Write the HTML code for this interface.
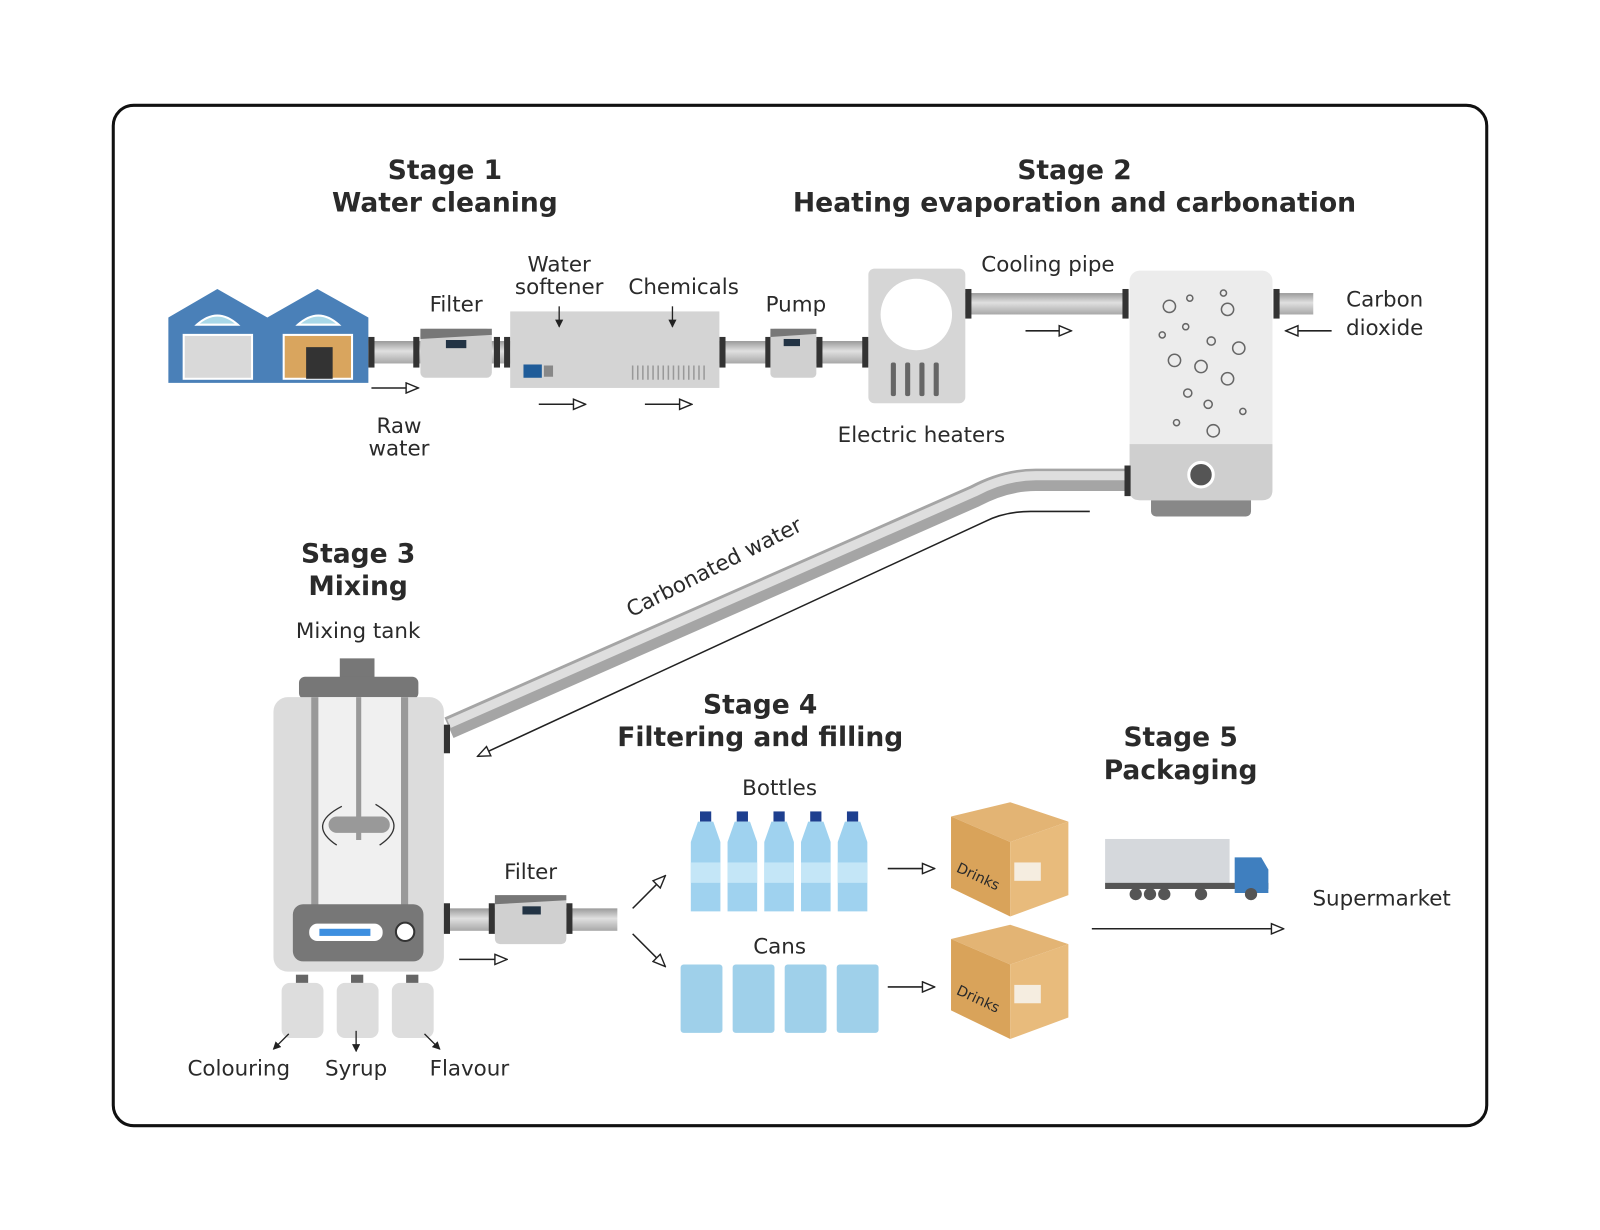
<!DOCTYPE html>
<html><head><meta charset="utf-8"><style>
html,body{margin:0;padding:0;background:#fff;width:1600px;height:1230px;overflow:hidden}
svg{display:block}
text{font-family:"DejaVu Sans","Liberation Sans",sans-serif;fill:#2a2a2a}
.t{font-weight:bold;font-size:26px;text-anchor:middle}
.l{font-size:21px;text-anchor:middle}
</style></head><body>
<svg width="1600" height="1230" viewBox="0 0 1568 1205" xmlns="http://www.w3.org/2000/svg">
<defs>
<marker id="a" markerWidth="14" markerHeight="12" refX="13" refY="6" orient="auto" markerUnits="userSpaceOnUse">
<path d="M1 1 L13 6 L1 11 Z" fill="#fff" stroke="#222" stroke-width="1.4"/></marker>
<marker id="s" markerWidth="8" markerHeight="8" refX="7" refY="4" orient="auto" markerUnits="userSpaceOnUse">
<path d="M0 0 L8 4 L0 8 Z" fill="#222"/></marker>
<linearGradient id="p" x1="0" y1="0" x2="0" y2="1"><stop offset="0" stop-color="#9a9a9a"/><stop offset=".45" stop-color="#e0e0e0"/><stop offset="1" stop-color="#a8a8a8"/></linearGradient>
</defs>
<rect x="111" y="103" width="1346" height="1000" rx="20" fill="#fff" stroke="#111" stroke-width="3"/>
<text class="t" x="436" y="175">Stage 1</text><text class="t" x="436" y="207">Water cleaning</text>
<text class="t" x="1053" y="175">Stage 2</text><text class="t" x="1053" y="207" textLength="552" lengthAdjust="spacingAndGlyphs">Heating evaporation and carbonation</text>
<text class="t" x="351" y="551">Stage 3</text><text class="t" x="351" y="583">Mixing</text>
<text class="t" x="745" y="699">Stage 4</text><text class="t" x="745" y="731">Filtering and filling</text>
<text class="t" x="1157" y="731">Stage 5</text><text class="t" x="1157" y="763">Packaging</text>

<!-- warehouse -->
<path d="M165 311 L213 283 L262 311 L311 283 L361 311 L361 375 L165 375 Z" fill="#4a80b8"/>
<rect x="180" y="328" width="67" height="43" fill="#d9d9d9" stroke="#fff" stroke-width="2"/>
<rect x="278" y="328" width="67" height="43" fill="#d9a55e" stroke="#fff" stroke-width="2"/>
<rect x="300" y="340" width="26" height="31" fill="#333"/>
<path d="M193 318 Q213 300 233 318 Z M292 318 Q312 300 332 318 Z" fill="#a9d8e8" stroke="#fff" stroke-width="2"/>
<!-- stage1 pipes -->
<rect x="361" y="334" width="490" height="22" fill="url(#p)"/>
<rect x="361" y="330" width="6" height="30" fill="#333"/><rect x="405" y="330" width="6" height="30" fill="#333"/>
<rect x="484" y="330" width="6" height="30" fill="#333"/><rect x="494" y="330" width="6" height="30" fill="#333"/>
<rect x="705" y="330" width="6" height="30" fill="#333"/><rect x="750" y="330" width="6" height="30" fill="#333"/>
<rect x="800" y="330" width="6" height="30" fill="#333"/><rect x="845" y="330" width="6" height="30" fill="#333"/>
<rect x="412" y="322" width="70" height="48" rx="5" fill="#d0d0d0"/><path d="M412 322 L482 322 L482 328 L412 332Z" fill="#777"/><rect x="437" y="333" width="20" height="8" fill="#234"/>
<rect x="500" y="305" width="205" height="75" fill="#d4d4d4"/>
<rect x="513" y="357" width="18" height="13" fill="#1f5c99"/><rect x="533" y="358" width="9" height="11" fill="#888"/>
<g stroke="#999" stroke-width="1.5"><path d="M620 358v14M625 358v14M630 358v14M635 358v14M640 358v14M645 358v14M650 358v14M655 358v14M660 358v14M665 358v14M670 358v14M675 358v14M680 358v14M685 358v14M690 358v14"/></g>
<rect x="755" y="322" width="45" height="48" rx="4" fill="#d0d0d0"/><path d="M755 322 L800 322 L800 327 L755 330Z" fill="#777"/><rect x="768" y="332" width="16" height="7" fill="#234"/>
<!-- heater -->
<rect x="851" y="263" width="95" height="132" rx="6" fill="#d6d6d6"/>
<circle cx="898" cy="308" r="35" fill="#fff"/>
<g fill="#666"><rect x="873" y="355" width="5" height="33" rx="2"/><rect x="887" y="355" width="5" height="33" rx="2"/><rect x="901" y="355" width="5" height="33" rx="2"/><rect x="915" y="355" width="5" height="33" rx="2"/></g>
<rect x="946" y="287" width="160" height="21" fill="url(#p)"/>
<rect x="946" y="283" width="6" height="29" fill="#333"/><rect x="1100" y="283" width="6" height="29" fill="#333"/>
<rect x="1248" y="287" width="39" height="21" fill="url(#p)"/><rect x="1248" y="283" width="6" height="29" fill="#333"/>
<!-- carbonator -->
<rect x="1128" y="485" width="98" height="21" rx="5" fill="#888"/>
<rect x="1107" y="265" width="140" height="225" rx="10" fill="#ececec"/>
<path d="M1107 435 H1247 V480 Q1247 490 1237 490 H1117 Q1107 490 1107 480Z" fill="#cfcfcf"/>
<circle cx="1177" cy="465" r="12" fill="#555" stroke="#fff" stroke-width="3"/>
<g fill="none" stroke="#666" stroke-width="1.5"><circle cx="1146" cy="300" r="6"/><circle cx="1203" cy="303" r="6"/><circle cx="1166" cy="292" r="3"/><circle cx="1199" cy="287" r="3"/><circle cx="1162" cy="320" r="3"/><circle cx="1139" cy="328" r="3"/><circle cx="1187" cy="334" r="4"/><circle cx="1214" cy="341" r="6"/><circle cx="1151" cy="353" r="6"/><circle cx="1177" cy="359" r="6"/><circle cx="1203" cy="371" r="6"/><circle cx="1164" cy="385" r="4"/><circle cx="1184" cy="396" r="4"/><circle cx="1218" cy="403" r="3"/><circle cx="1153" cy="414" r="3"/><circle cx="1189" cy="422" r="6"/></g>
<!-- carbonated pipe -->
<path d="M1107 470 L1015 470 Q985 470 955 486 L440 713" fill="none" stroke="#a5a5a5" stroke-width="22"/>
<path d="M1107 466 L1015 466 Q985 466 955 482 L440 709" fill="none" stroke="#dedede" stroke-width="9"/>
<rect x="1102" y="456" width="6" height="30" fill="#333"/>
<path d="M1068 501 L1010 501 Q985 501 965 511 L468 741" fill="none" stroke="#222" stroke-width="1.5" marker-end="url(#a)"/>
<text class="l" x="0" y="0" transform="translate(703 562) rotate(-27)">Carbonated water</text>
<!-- mixing tank -->
<rect x="333" y="645" width="34" height="20" fill="#777"/>
<rect x="293" y="663" width="117" height="22" rx="6" fill="#777"/>
<rect x="268" y="683" width="167" height="269" rx="14" fill="#dcdcdc"/>
<rect x="305" y="683" width="95" height="210" fill="#f0f0f0"/>
<rect x="305" y="683" width="7" height="210" fill="#999"/><rect x="393" y="683" width="7" height="210" fill="#999"/>
<rect x="349" y="683" width="5" height="140" fill="#999"/>
<rect x="322" y="800" width="60" height="16" rx="8" fill="#999"/>
<path d="M335 790 Q300 808 330 828 M368 788 Q402 808 372 828" fill="none" stroke="#333" stroke-width="1.3"/>
<rect x="287" y="886" width="128" height="56" rx="10" fill="#777"/>
<rect x="303" y="905" width="72" height="17" rx="8" fill="#fff"/><rect x="313" y="910" width="50" height="7" fill="#3d8fe0"/>
<circle cx="397" cy="913" r="9" fill="#fff" stroke="#333" stroke-width="2"/>
<g fill="#ddd"><rect x="276" y="963" width="41" height="54" rx="8"/><rect x="330" y="963" width="41" height="54" rx="8"/><rect x="384" y="963" width="41" height="54" rx="8"/></g>
<g fill="#666"><rect x="290" y="955" width="12" height="8"/><rect x="344" y="955" width="12" height="8"/><rect x="398" y="955" width="12" height="8"/></g>
<rect x="435" y="710" width="6" height="28" fill="#333"/>
<!-- stage4 pipe -->
<rect x="435" y="890" width="170" height="22" fill="url(#p)"/>
<rect x="435" y="885" width="6" height="30" fill="#333"/><rect x="479" y="885" width="6" height="30" fill="#333"/><rect x="555" y="885" width="6" height="30" fill="#333"/>
<rect x="485" y="877" width="70" height="48" rx="5" fill="#d0d0d0"/><path d="M485 877 L555 877 L555 882 L485 886Z" fill="#777"/><rect x="512" y="888" width="18" height="8" fill="#234"/>
<!-- bottles -->
<g id="b"><rect x="686" y="795" width="11" height="10" fill="#1e3f8f"/><path d="M684 805 H699 L706 825 V893 H677 V825 Z" fill="#9fd2ef"/><rect x="677" y="845" width="29" height="20" fill="#c4e6f7"/></g>
<use href="#b" x="36"/><use href="#b" x="72"/><use href="#b" x="108"/><use href="#b" x="144"/>
<g fill="#9fd0ea"><rect x="667" y="945" width="41" height="67" rx="3"/><rect x="718" y="945" width="41" height="67" rx="3"/><rect x="769" y="945" width="41" height="67" rx="3"/><rect x="820" y="945" width="41" height="67" rx="3"/></g>
<!-- boxes -->
<g id="bx"><path d="M932 800 L990 786 L1047 805 L990 825 Z" fill="#e3b474"/><path d="M932 800 L990 825 L990 898 L932 870 Z" fill="#d9a35a"/><path d="M990 825 L1047 805 L1047 877 L990 898 Z" fill="#e8bb7c"/><rect x="994" y="845" width="26" height="18" fill="#f5ede0"/><text x="935" y="860" font-size="14" fill="#6b4c20" transform="rotate(25 950 860)">Drinks</text></g>
<use href="#bx" y="120"/>
<!-- truck -->
<rect x="1083" y="822" width="122" height="45" fill="#d5d8dc"/>
<rect x="1083" y="865" width="160" height="6" fill="#555"/>
<path d="M1210 840 H1236 L1243 852 V875 H1210 Z" fill="#3f7fbf"/>
<g fill="#555"><circle cx="1113" cy="876" r="6"/><circle cx="1127" cy="876" r="6"/><circle cx="1141" cy="876" r="6"/><circle cx="1177" cy="876" r="6"/><circle cx="1226" cy="876" r="6"/></g>
<!-- arrows -->
<g stroke="#222" stroke-width="1.5" fill="none" marker-end="url(#a)">
<path d="M364 380H410"/><path d="M528 396H574"/><path d="M632 396H678"/><path d="M1005 324H1050"/><path d="M1305 324H1260"/><path d="M450 940H497"/><path d="M620 890L652 858"/><path d="M620 915L652 947"/><path d="M870 851H916"/><path d="M870 967H916"/><path d="M1070 910H1258"/>
</g>
<g stroke="#222" stroke-width="1.3" fill="none" marker-end="url(#s)">
<path d="M548 300V320"/><path d="M659 300V320"/><path d="M283 1013L268 1028"/><path d="M349 1010V1030"/><path d="M416 1013L431 1028"/>
</g>
<!-- labels -->
<text class="l" x="447" y="305">Filter</text><text class="l" x="548" y="266">Water</text><text class="l" x="548" y="288">softener</text>
<text class="l" x="670" y="288">Chemicals</text><text class="l" x="780" y="305">Pump</text>
<text class="l" x="391" y="424">Raw</text><text class="l" x="391" y="446">water</text>
<text class="l" x="1027" y="266">Cooling pipe</text><text class="l" x="1357" y="300">Carbon</text><text class="l" x="1357" y="328">dioxide</text>
<text class="l" x="903" y="433">Electric heaters</text><text class="l" x="351" y="625">Mixing tank</text>
<text class="l" x="520" y="861">Filter</text><text class="l" x="764" y="779">Bottles</text><text class="l" x="764" y="934">Cans</text>
<text class="l" x="1354" y="887">Supermarket</text><text class="l" x="234" y="1054">Colouring</text><text class="l" x="349" y="1054">Syrup</text><text class="l" x="460" y="1054">Flavour</text>
</svg>
</body></html>
